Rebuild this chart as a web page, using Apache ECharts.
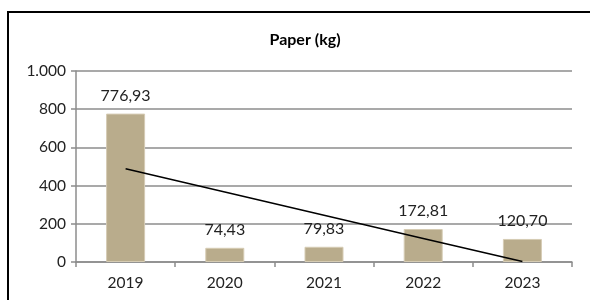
<!DOCTYPE html>
<html>
<head>
<meta charset="utf-8">
<script src="https://cdn.jsdelivr.net/npm/echarts@6/dist/echarts.min.js"></script>
<style>
  html, body { margin: 0; padding: 0; background: #fff; }
  #chart { width: 590px; height: 300px; }
</style>
</head>
<body>
<div id="chart"></div>
<script>
// values
let years = ['2019', '2020', '2021', '2022', '2023'];
let paper_kg = [776.93, 74.43, 79.83, 172.81, 120.70];
// linear trend line, as seen in the chart
let trend_kg = [487.76, 366.35, 244.94, 123.53, 2.12];
let y_ticks = [0, 200, 400, 600, 800, 1000];

let font = 'Lato, "Open Sans", sans-serif';
let gray = '#8c8c8c';

function fmt_comma(v) {
    return v.toFixed(2).replace('.', ',');
}
function fmt_thousands(v) {
    return v >= 1000 ? String(v).replace(/\B(?=(\d{3})+(?!\d))/g, '.') : String(v);
}

let chart = echarts.init(document.getElementById('chart'));
chart.setOption({
    animation: false,
    title: {
        text: 'Paper (kg)',
        left: 300,
        textAlign: 'center',
        top: 27,
        textStyle: { fontFamily: font, fontSize: 16, fontWeight: 'bold', color: '#000' }
    },
    graphic: [{
        type: 'rect',
        shape: { x: 8, y: 12, width: 600, height: 300 },
        style: { fill: 'none', stroke: '#000', lineWidth: 2 },
        silent: true
    }],
    grid: { left: 76, right: 18, top: 71, bottom: 38 },
    xAxis: {
        type: 'category',
        data: years,
        axisLine: { lineStyle: { color: gray, width: 1.5 } },
        axisTick: { show: true, length: 5, alignWithLabel: false, lineStyle: { color: gray, width: 1.5 } },
        axisLabel: { fontFamily: font, fontSize: 15.5, color: '#222', margin: 13 }
    },
    yAxis: {
        type: 'value',
        min: y_ticks[0],
        max: y_ticks[y_ticks.length - 1],
        interval: 200,
        axisLine: { show: true, lineStyle: { color: gray, width: 1.5 } },
        axisTick: { show: true, length: 5, lineStyle: { color: gray, width: 1.5 } },
        splitLine: { lineStyle: { color: gray, width: 1.5 } },
        axisLabel: {
            fontFamily: font, fontSize: 15.5, color: '#222', margin: 10,
            formatter: fmt_thousands
        }
    },
    series: [
        {
            type: 'bar',
            data: paper_kg,
            barWidth: 39,
            itemStyle: { color: '#b9ac8c', borderColor: '#d6ccb4', borderWidth: 1 },
            label: {
                show: true,
                position: 'top',
                distance: 10,
                fontFamily: font,
                fontSize: 16,
                color: '#222',
                formatter: function (p) { return fmt_comma(p.value); }
            }
        },
        {
            type: 'line',
            data: trend_kg,
            symbol: 'none',
            lineStyle: { color: '#000', width: 1.5 },
            z: 5
        }
    ]
});
</script>
</body>
</html>
